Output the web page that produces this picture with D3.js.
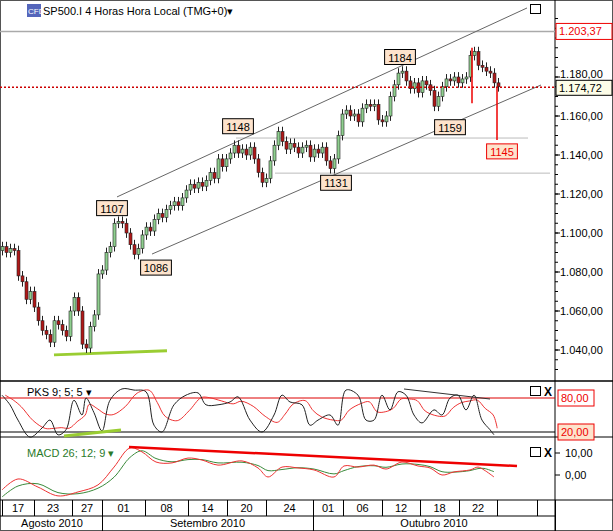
<!DOCTYPE html>
<html><head><meta charset="utf-8">
<script src="https://cdn.jsdelivr.net/npm/d3@7"></script>
<style>body{margin:0;background:#fff}text{font-family:Arial,"Liberation Sans",sans-serif}</style>
</head><body>
<script>
// closing prices, one per 4h bar
var closes = [1093,1090,1092,1091,1078,1075,1066,1070,1062,1055,1050,1048,1044,1055,1053,1050,1047,1060,1067,1060,
  1043,1041,1052,1058,1079,1081,1090,1093,1105,1106,1105,1100,1094,1089,1092,1099,1103,1101,1107,1110,
  1108,1112,1114,1116,1114,1118,1122,1125,1123,1126,1124,1127,1131,1128,1138,1134,1138,1141,1145,1141,
  1143,1140,1144,1138,1131,1126,1128,1137,1145,1152,1147,1143,1146,1144,1141,1144,1145,1139,1143,1141,
  1144,1137,1133,1138,1150,1161,1163,1160,1161,1157,1164,1166,1165,1166,1158,1157,1160,1170,1176,1182,
  1183,1178,1174,1177,1172,1178,1176,1173,1165,1170,1175,1179,1178,1180,1177,1179,1180,1191,1193,1186,
  1185,1183,1182,1177,1175];
var firstOpen = 1091;

var pksBar = [0,2,4,7,10,12,14,16,18,20,21,23,25,27,30,33,36,38,40,43,46,49,51,54,57,59,62,65,68,70,72,75,77,79,82,84,86,89,91,93,95,97,99,101,103,105,108,110,112,114,116,118,120,122,123];
var pksK = [85,68,41,11,27,41,15,24,76,50,80,54,22,76,96,94,91,32,20,68,85,89,68,68,73,82,41,20,50,85,73,68,32,41,50,32,94,85,41,41,85,59,91,85,50,36,59,50,80,85,59,85,41,24,15];

var macdBar = [0,4,9,14,19,24,28,32,35,38.5,42.5,46.5,50,54,60,64,66.5,70,74,78,83,85.5,89,93,96,100,104,107,110,113,117,119,120.5,123];
var macdLine = [-6.8,-1.8,-5.5,-9.5,-7.7,-4.5,3.6,12.3,10.5,5.9,5.5,7.7,6.8,4.5,6.4,3.2,-0.9,3.6,3.2,2.3,-0.9,4.1,3.6,4.5,2.7,5.9,4.1,3.2,0,1.4,2.3,3.6,2.3,-0.9];
var macdSignal = [-10,-5,-4,-8,-8.5,-6,-1,8,11,7.5,6,7,7,5.5,5.8,4.3,2,2.5,3.3,2.7,0.5,2,3.8,4.2,3.5,5,4.8,3.8,1.5,1.3,2,2.9,3,1.5];

var priceTicks = [1040,1060,1080,1100,1120,1140,1160,1180];
var dayLabels = ["17","23","27","01","08","14","20","24","01","06","12","18","22","",""];
var daySeps = [2,34,72,102,145,188,227,266,313,343,382,420,459,497,537,555];
var months = [["Agosto 2010",2,102],["Setembro 2010",102,313],["Outubro 2010",313,555]];
var peaks = [["1184",99.5,1190],["1148",59,1154.5],["1131",83.5,1125.5],["1159",112,1154],["1107",27.5,1112.5],["1086",38.5,1082]];
var lastPrice = 1174.72, topLevel = 1203.37;

var W = 613, H = 531, axX = 555;
var svg = d3.select("body").append("svg").attr("width", W).attr("height", H);

var x = d3.scaleLinear().domain([0, 124]).range([2, 498]);
var y = d3.scaleLinear().domain([1180, 1140]).range([77, 155]);
var yP = d3.scaleLinear().domain([80, 20]).range([398, 432]);
var yM = d3.scaleLinear().domain([10, 0]).range([453, 475]);

// frame
svg.append("rect").attr("x",0.5).attr("y",0.5).attr("width",W-1).attr("height",H-1).attr("fill","none").attr("stroke","#555");
svg.append("line").attr("x1",axX).attr("x2",axX).attr("y1",0).attr("y2",H).attr("stroke","#000");
[381,437,500,516].forEach(function(v,i){
  svg.append("line").attr("x1",0).attr("x2",i<2?W:axX).attr("y1",v).attr("y2",v).attr("stroke","#000").attr("stroke-width",i==0?1.5:1);
});
svg.append("line").attr("x1",axX).attr("x2",W).attr("y1",500).attr("y2",500).attr("stroke","#000");

// price axis
priceTicks.forEach(function(v){
  svg.append("line").attr("x1",axX).attr("x2",axX+5).attr("y1",y(v)).attr("y2",y(v)).attr("stroke","#000");
  svg.append("text").attr("x",axX+5).attr("y",y(v)+(v==1180?1:4)).attr("font-size",11).text(d3.format(",.2f")(v).replace(/,/g,"#").replace(".",",").replace(/#/g,"."));
});
d3.range(1030,1215,5).forEach(function(v){
  if (y(v) > 0 && y(v) < 380) svg.append("line").attr("x1",axX).attr("x2",axX+3).attr("y1",y(v)).attr("y2",y(v)).attr("stroke","#000");
});

// horizontal levels
svg.append("line").attr("x1",0).attr("x2",axX).attr("y1",y(topLevel)).attr("y2",y(topLevel)).attr("stroke","#aaa").attr("stroke-width",1.5);
svg.append("line").attr("x1",x(58.5)).attr("x2",x(131.5)).attr("y1",y(1148.7)).attr("y2",y(1148.7)).attr("stroke","#bbb");
svg.append("line").attr("x1",x(68.25)).attr("x2",x(137)).attr("y1",y(1130.7)).attr("y2",y(1130.7)).attr("stroke","#bbb");

// channel
svg.append("line").attr("x1",x(28.75)).attr("y1",y(1118.5)).attr("x2",x(131.25)).attr("y2",y(1215.4)).attr("stroke","#666");
svg.append("line").attr("x1",x(37.5)).attr("y1",y(1089.2)).attr("x2",x(134.75)).attr("y2",y(1175.9)).attr("stroke","#666");
svg.append("line").attr("x1",x(13)).attr("y1",y(1037.5)).attr("x2",x(41.25)).attr("y2",y(1039.6)).attr("stroke","#9acd32").attr("stroke-width",3);

// candles
var g = svg.append("g");
closes.forEach(function(c,i){
  var o = i == 0 ? firstOpen : closes[i-1];
  var up = c >= o, cx = Math.round(x(i)) + 0.5;
  g.append("line").attr("x1",cx).attr("x2",cx).attr("y1",y(Math.max(o,c)+2.5)).attr("y2",y(Math.min(o,c)-2.5)).attr("stroke","#222");
  g.append("rect").attr("x",cx-1.5).attr("width",3).attr("y",y(Math.max(o,c))).attr("height",Math.max(1,y(Math.min(o,c))-y(Math.max(o,c))))
    .attr("fill",up?"#8fcf8f":"#b01818").attr("stroke","#222").attr("stroke-width",0.6);
});

// last price dotted line & target lines
svg.append("line").attr("x1",0).attr("x2",axX).attr("y1",y(lastPrice)).attr("y2",y(lastPrice)).attr("stroke","#c00").attr("stroke-width",1.5).attr("stroke-dasharray","2,2");
svg.append("line").attr("x1",x(117.5)).attr("x2",x(117.5)).attr("y1",y(1195)).attr("y2",y(1166.6)).attr("stroke","#e00").attr("stroke-width",1.5);
svg.append("line").attr("x1",x(123.75)).attr("x2",x(123.75)).attr("y1",y(lastPrice)).attr("y2",y(1147.7)).attr("stroke","#e00").attr("stroke-width",1.5);

function box(t, cx, cy, col, fill, size){
  var w = t.length*6.2+6;
  svg.append("rect").attr("x",cx-w/2).attr("y",cy-8).attr("width",w).attr("height",15).attr("fill",fill).attr("stroke",col);
  svg.append("text").attr("x",cx).attr("y",cy+4).attr("text-anchor","middle").attr("font-size",size||11).attr("fill",col).text(t);
}
peaks.forEach(function(p){ box(p[0], x(p[1]), y(p[2]), "#000", "#fde3cc"); });
box("1145", x(125), y(1141.6), "#e00", "#fde3cc");
var rw = 56;
svg.append("rect").attr("x",axX+1).attr("y",y(topLevel)-8).attr("width",rw).attr("height",16).attr("fill","#fff").attr("stroke","#e00");
svg.append("text").attr("x",axX+4).attr("y",y(topLevel)+4).attr("font-size",11).attr("fill","#e00").text("1.203,37");
svg.append("rect").attr("x",axX+1).attr("y",y(lastPrice)-7).attr("width",rw).attr("height",15).attr("fill","#fdfde8").attr("stroke","#000");
svg.append("text").attr("x",axX+4).attr("y",y(lastPrice)+5).attr("font-size",11).text("1.174,72");

// title
svg.append("rect").attr("x",27).attr("y",4).attr("width",14).attr("height",13).attr("fill","#5566bb");
svg.append("text").attr("x",28).attr("y",14).attr("font-size",8).attr("fill","#fff").text("CFD");
svg.append("text").attr("x",43).attr("y",15).attr("font-size",11).text("SP500.I 4 Horas Hora Local (TMG+0)\u25BE");

function icons(yy, withX){
  svg.append("rect").attr("x",530.5).attr("y",yy+0.5).attr("width",10).attr("height",9).attr("fill","none").attr("stroke","#000");
  if (withX) svg.append("text").attr("x",544).attr("y",yy+10).attr("font-size",12).attr("font-weight","bold").text("X");
}
icons(4,false); icons(386,true); icons(447,true);

// PKS
svg.append("line").attr("x1",0).attr("x2",axX).attr("y1",yP(80)).attr("y2",yP(80)).attr("stroke","#d00");
svg.append("line").attr("x1",0).attr("x2",axX).attr("y1",yP(20)).attr("y2",yP(20)).attr("stroke","#000");
var pksD = pksK.map(function(v,i){ return d3.mean(pksK.slice(Math.max(0,i-2), i+1)); });
var lineP = d3.line().x(function(d){return x(d[0]);}).y(function(d){return yP(d[1]);}).curve(d3.curveCatmullRom);
svg.append("path").attr("d",lineP(pksBar.map(function(b,i){return [b+0.8,pksD[i]];}))).attr("fill","none").attr("stroke","#e33");
svg.append("path").attr("d",lineP(pksBar.map(function(b,i){return [b,pksK[i]];}))).attr("fill","none").attr("stroke","#222");
svg.append("line").attr("x1",64).attr("y1",436).attr("x2",121).attr("y2",430).attr("stroke","#9acd32").attr("stroke-width",3);
svg.append("line").attr("x1",404).attr("y1",389).attr("x2",490).attr("y2",399).attr("stroke","#333");
svg.append("text").attr("x",27).attr("y",396).attr("font-size",11).text("PKS 9; 5; 5 \u25BE");
[[80,"#e00","#fff"],[20,"#e00","#fde3cc"]].forEach(function(a){
  svg.append("rect").attr("x",axX+3).attr("y",yP(a[0])-8).attr("width",36).attr("height",16).attr("fill",a[2]).attr("stroke",a[1]);
  svg.append("text").attr("x",axX+6).attr("y",yP(a[0])+4).attr("font-size",11).attr("fill",a[1]).text(a[0]+",00");
});

// MACD
var lineM = d3.line().x(function(d){return x(d[0]);}).y(function(d){return yM(d[1]);}).curve(d3.curveCatmullRom);
svg.append("path").attr("d",lineM(macdBar.map(function(b,i){return [b,macdSignal[i]];}))).attr("fill","none").attr("stroke","#3a8a3a");
svg.append("path").attr("d",lineM(macdBar.map(function(b,i){return [b,macdLine[i]];}))).attr("fill","none").attr("stroke","#e33");
svg.append("line").attr("x1",129).attr("y1",447).attr("x2",517).attr("y2",466).attr("stroke","#e00").attr("stroke-width",2.5);
svg.append("text").attr("x",27).attr("y",457).attr("font-size",11).attr("fill","#2a7a2a").text("MACD 26; 12; 9 \u25BE");
[10,0].forEach(function(v){
  svg.append("line").attr("x1",axX).attr("x2",axX+5).attr("y1",yM(v)).attr("y2",yM(v)).attr("stroke","#000");
  svg.append("text").attr("x",axX+10).attr("y",yM(v)+4).attr("font-size",11).text(v+",00");
});

// date axis
daySeps.forEach(function(s,i){
  svg.append("line").attr("x1",s+0.5).attr("x2",s+0.5).attr("y1",500).attr("y2",516).attr("stroke","#000");
  if (i < daySeps.length-1 && dayLabels[i]) svg.append("text").attr("x",(s+daySeps[i+1])/2).attr("y",512).attr("text-anchor","middle").attr("font-size",11).text(dayLabels[i]);
});
months.forEach(function(m){
  svg.append("line").attr("x1",m[2]+0.5).attr("x2",m[2]+0.5).attr("y1",516).attr("y2",H).attr("stroke","#000");
  svg.append("text").attr("x",(m[1]+m[2])/2).attr("y",527).attr("text-anchor","middle").attr("font-size",11).text(m[0]);
});
</script>
</body></html>
